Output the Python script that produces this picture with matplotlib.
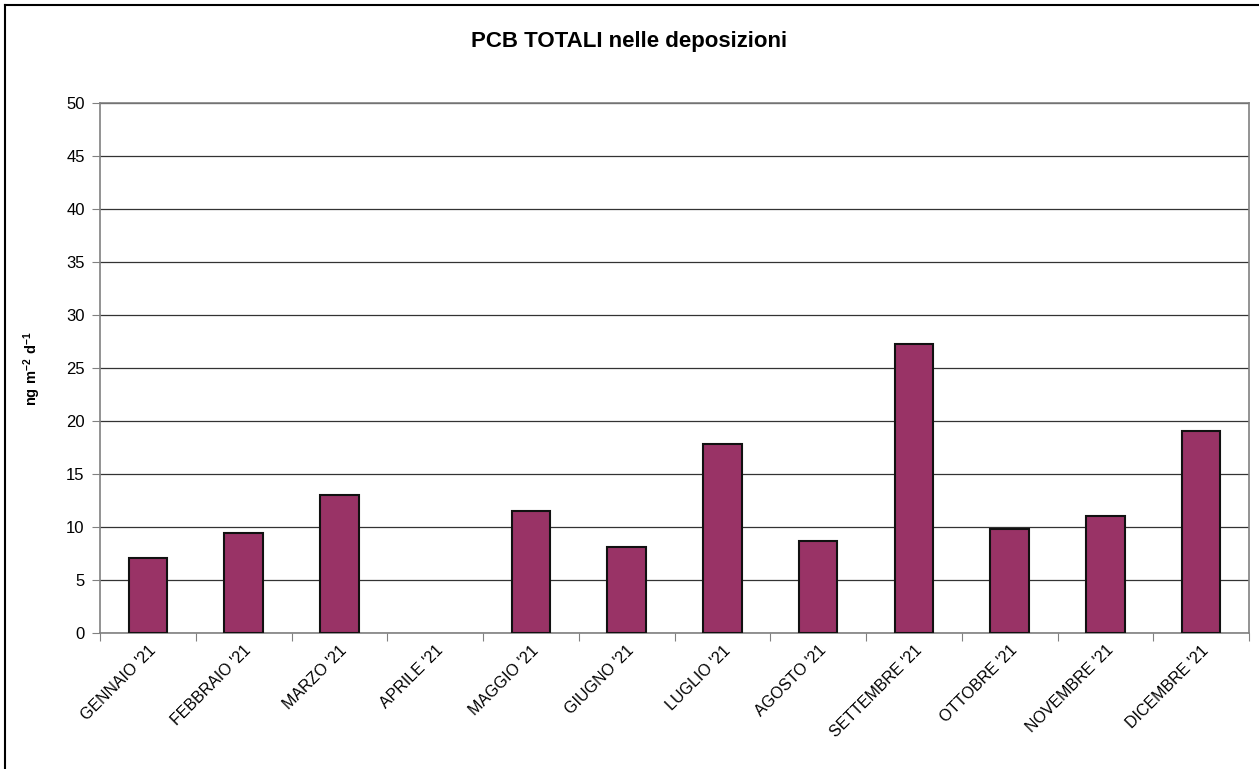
import numpy as np
import matplotlib
matplotlib.use('Agg')
import matplotlib.pyplot as plt
from matplotlib.lines import Line2D

plt.rcParams['font.family'] = ['Liberation Sans', 'DejaVu Sans']
plt.rcParams['mathtext.fontset'] = 'custom'
plt.rcParams['mathtext.rm'] = 'Liberation Sans'
plt.rcParams['mathtext.bf'] = 'Liberation Sans:bold'

# Dati
mesi = ["GENNAIO '21", "FEBBRAIO '21", "MARZO '21", "APRILE '21", "MAGGIO '21",
        "GIUGNO '21", "LUGLIO '21", "AGOSTO '21", "SETTEMBRE '21", "OTTOBRE '21",
        "NOVEMBRE '21", "DICEMBRE '21"]
pcb_totali = [7.1, 9.4, 13.0, np.nan, 11.5, 8.1, 17.8, 8.7, 27.3, 9.8, 11.0, 19.1]

fig = plt.figure(figsize=(12.59, 7.69), dpi=100)
ax = fig.add_axes([100 / 1259, 1 - 633 / 769, 1149 / 1259, 530 / 769])

x = np.arange(len(mesi))
ax.bar(x, pcb_totali, width=0.4, color='#993366', edgecolor='#111111', linewidth=1.5, zorder=3)

ax.set_xlim(-0.5, len(mesi) - 0.5)
ax.set_ylim(0, 50)
ax.set_yticks(range(0, 51, 5))
ax.yaxis.grid(True, color='#333333', linewidth=0.9, zorder=0)

# tick sui confini delle categorie
ax.set_xticks(np.arange(-0.5, len(mesi), 1.0))
ax.set_xticklabels([])
ax.set_xticks(x, minor=True)
ax.set_xticklabels(mesi, minor=True, rotation=45, ha='right', va='top',
                   rotation_mode='anchor', fontsize=11.5)
ax.tick_params(axis='x', which='minor', length=0, pad=7)
ax.tick_params(axis='x', which='major', length=6, direction='out', color='#808080')
ax.tick_params(axis='y', length=6, direction='out', color='#808080', labelsize=12, pad=5)

for s in ['left', 'bottom', 'right', 'top']:
    ax.spines[s].set_color('#808080')
    ax.spines[s].set_linewidth(1.2)

ax.set_ylabel(r'$\mathbf{ng\ m^{-2}\ d^{-1}}$', fontsize=10.5)
ax.yaxis.set_label_coords(-0.05, 0.5)

fig.text(0.5, 1 - 42 / 769, 'PCB TOTALI nelle deposizioni', ha='center', va='center',
         fontsize=16, fontweight='bold')

# cornice esterna
fig.add_artist(Line2D([5 / 1259, 5 / 1259], [0, 1 - 5 / 769], transform=fig.transFigure,
                      color='black', linewidth=1.5))
fig.add_artist(Line2D([5 / 1259, 1], [1 - 5 / 769, 1 - 5 / 769], transform=fig.transFigure,
                      color='black', linewidth=1.5))

fig.savefig('out.png', dpi=100)
